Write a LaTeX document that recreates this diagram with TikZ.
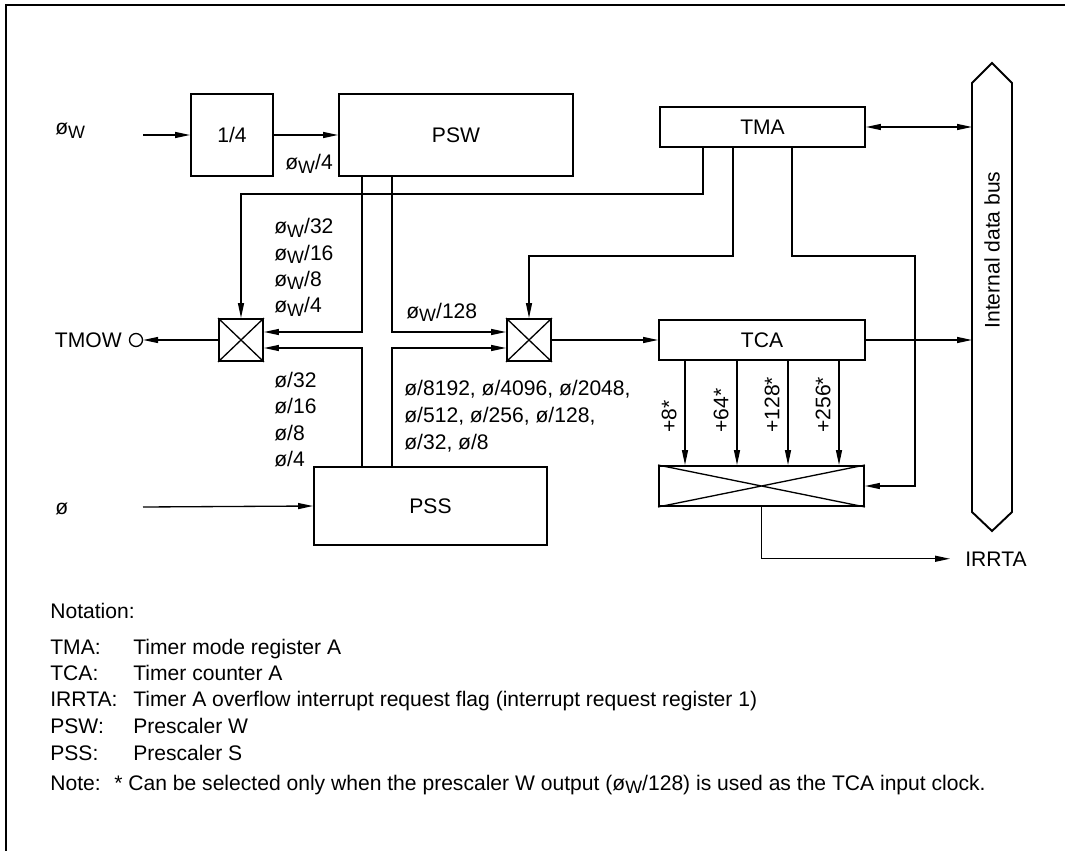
\documentclass[tikz,border=0pt]{standalone}
\usepackage{fontspec}
\setmainfont{Liberation Sans}
\usetikzlibrary{positioning,arrows.meta,calc}

% phi_W with lowered W
\newcommand{\phiw}{ø\raisebox{-0.35ex}{\scalebox{0.85}{W}}}

\tikzset{
  blk/.style={draw, line width=1.1pt, inner sep=0pt, font=\fontsize{12}{14}\selectfont},
  muxbox/.style={draw, line width=1.1pt, minimum width=0.88cm, minimum height=0.84cm, inner sep=0pt},
  wire/.style={line width=0.75pt},
  arr/.style={wire, -{Triangle[length=0.3cm,width=0.12cm]}},
  darr/.style={wire, {Triangle[length=0.3cm,width=0.12cm]}-{Triangle[length=0.3cm,width=0.12cm]}},
  lbl/.style={font=\fontsize{12}{14}\selectfont, inner sep=0pt, anchor=base west},
  notetxt/.style={font=\fontsize{12}{14}\selectfont, inner sep=0pt, anchor=base west},
}

\begin{document}
\begin{tikzpicture}[x=0.02cm, y=-0.02cm]
    \useasboundingbox (0,0) rectangle (1075,851);

    % =========================================================
    % Frame
    % =========================================================
    \draw[line width=1.4pt] (6,851) -- (6,5) -- (1065,5);

    % =========================================================
    % Blocks
    % =========================================================
    \node[blk, minimum width=1.64cm, minimum height=1.64cm] (quarter) at (232,135) {1/4};
    \node[blk, minimum width=4.68cm, minimum height=1.64cm] (psw) at (456,135) {PSW};
    \node[blk, minimum width=4.1cm, minimum height=0.8cm] (tma) at (762.5,127) {TMA};
    \node[blk, minimum width=4.12cm, minimum height=0.8cm] (tca) at (762,340) {TCA};
    \node[blk, minimum width=4.66cm, minimum height=1.56cm] (pss) at (430.5,506) {PSS};
    \node[blk, minimum width=4.1cm, minimum height=0.8cm] (sel) at (761.5,486) {};
    \node[muxbox] (mux1) at (241,340) {};
    \node[muxbox] (mux2) at (529,340) {};

    % Crosses in the selectors
    \foreach \m in {mux1,mux2,sel}
        \draw[wire] (\m.north west) -- (\m.south east) (\m.south west) -- (\m.north east);

    % Internal data bus
    \draw[line width=1.1pt] (972,83) -- (992,63) -- (1012,83) -- (1012,512) -- (992,531) -- (972,512) -- cycle;
    \node[rotate=90, font=\fontsize{12}{14}\selectfont] (busname) at (992,250) {Internal data bus};
    \coordinate (busL) at (972,0);

    % =========================================================
    % Clock inputs
    % =========================================================
    \node[lbl] (phiwlbl) at (55,135) {\phiw};
    \coordinate (phiwin) at (143,135);
    \draw[arr] (phiwin) -- (quarter.west);
    \draw[arr] (quarter.east) -- (psw.west);
    \node[lbl] (phiw4) at (285,170) {\phiw/4};

    \node[lbl] (philbl) at (55,514) {ø};
    \coordinate (phiin) at (143,507);
    \draw[arr] (phiin) -- (pss.west);

    % =========================================================
    % Prescaler outputs
    % =========================================================
    \coordinate (colL) at (362,0);
    \coordinate (colR) at (392,0);
    \coordinate (m1a) at ($(mux1.east)+(0,-8)$);
    \coordinate (m1b) at ($(mux1.east)+(0,8)$);
    \coordinate (m2a) at ($(mux2.west)+(0,-8)$);
    \coordinate (m2b) at ($(mux2.west)+(0,8)$);
    \draw[arr] (psw.south -| colL) |- (m1a);
    \draw[arr] (pss.north -| colL) |- (m1b);
    \draw[arr] (psw.south -| colR) |- (m2a);
    \draw[arr] (pss.north -| colR) |- (m2b);

    \node[lbl] (w32) at (274,234) {\phiw/32};
    \node[lbl] (w16) at (274,260) {\phiw/16};
    \node[lbl] (w8) at (274,286) {\phiw/8};
    \node[lbl] (w4) at (274,313) {\phiw/4};
    \node[lbl] (s32) at (274,387) {ø/32};
    \node[lbl] (s16) at (274,413) {ø/16};
    \node[lbl] (s8) at (274,440) {ø/8};
    \node[lbl] (s4) at (274,466) {ø/4};

    \node[lbl] (w128) at (406,318) {\phiw/128};
    \node[lbl] (sa) at (404,395) {ø/8192, ø/4096, ø/2048,};
    \node[lbl] (sb) at (404,422) {ø/512, ø/256, ø/128,};
    \node[lbl] (sc) at (404,449) {ø/32, ø/8};

    % =========================================================
    % TMA control lines
    % =========================================================
    \coordinate (legA) at (703,194);
    \coordinate (legB) at (733,256);
    \coordinate (legC) at (792,256);
    \coordinate (legD) at (915,256);
    \draw[arr] (tma.south -| legA) -- (legA) -| (mux1.north);
    \draw[arr] (tma.south -| legB) -- (legB) -| (mux2.north);
    \draw[arr] (tma.south -| legC) -- (legC) -- (legD) |- (sel.east);
    \draw[darr] (tma.east) -- (tma.east -| busL);

    % =========================================================
    % Outputs
    % =========================================================
    \node[circle, draw, wire, minimum size=0.26cm, inner sep=0pt] (tmow) at (136,340) {};
    \node[lbl, anchor=base east] (tmowlbl) at (122,347) {TMOW};
    \draw[arr] (mux1.west) -- (tmow.east);

    \draw[arr] (mux2.east) -- (tca.west);
    \draw[arr] (tca.east) -- (tca.east -| busL);

    \foreach \x/\n in {685/8, 737/64, 788/128, 839/256} {
        \draw[arr] (tca.south -| \x,0) -- (sel.north -| \x,0);
        \node[lbl, anchor=west, rotate=90] (div\n) at (\x-16,433) {+\n*};
    }

    \node[lbl] (irrta) at (965,566) {IRRTA};
    \draw[arr] (sel.south) |- ([xshift=-0.3cm]irrta.west);

    % =========================================================
    % Notation
    % =========================================================
    \node[notetxt] (nothead) at (50,618) {Notation:};
    \node[notetxt] (ntma) at (50,654) {TMA:};
    \node[notetxt] (dtma) at (133,654) {Timer mode register A};
    \node[notetxt] (ntca) at (50,680) {TCA:};
    \node[notetxt] (dtca) at (133,680) {Timer counter A};
    \node[notetxt] (nirr) at (50,706) {IRRTA:};
    \node[notetxt] (dirr) at (133,706) {Timer A overflow interrupt request flag (interrupt request register 1)};
    \node[notetxt] (npsw) at (50,733) {PSW:};
    \node[notetxt] (dpsw) at (133,733) {Prescaler W};
    \node[notetxt] (npss) at (50,760) {PSS:};
    \node[notetxt] (dpss) at (133,760) {Prescaler S};
    \node[notetxt] (nnote) at (50,790) {Note:};
    \node[notetxt] (dnote) at (114,790) {* Can be selected only when the prescaler W output (\phiw/128) is used as the TCA input clock.};
\end{tikzpicture}
\end{document}
